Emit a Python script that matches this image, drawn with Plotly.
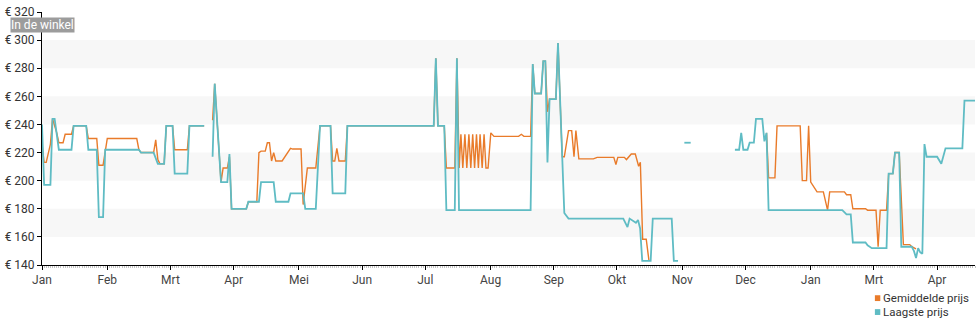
import plotly.graph_objects as go

# Month ticks (day offsets from the first day shown) and their labels
maand_dagen = [0, 31, 61, 91, 122, 152, 182, 213, 243, 273, 304, 334, 365, 395, 425]
maand_labels = ["Jan", "Feb", "Mrt", "Apr", "Mei", "Jun", "Jul", "Aug", "Sep",
                "Okt", "Nov", "Dec", "Jan", "Mrt", "Apr"]

# Laagste prijs, split into the stretches where a price was known
laagste_dag_1 = [0, 1, 4, 5, 6, 8, 14, 15, 21, 22, 26, 27, 29, 30, 46, 47, 53, 55, 58, 59,
                 62, 63, 69, 70, 77]
laagste_prijs_1 = [240, 197, 197, 244, 244, 222, 222, 239, 239, 222, 222, 174, 174, 222, 222,
                   220, 220, 212, 212, 239, 239, 205, 205, 239, 239]

laagste_dag_2 = [81, 82, 85, 88, 89, 90, 97, 98, 103, 104, 110, 111, 117, 118, 124, 125, 130,
                 132, 137, 138, 144, 145, 186, 187, 188, 191, 192, 196, 197, 198, 232, 233,
                 234, 237, 238, 239, 240, 241, 244, 245, 248, 250, 276, 278, 279, 282, 283,
                 284, 285, 289, 290, 299, 300, 302]
laagste_prijs_2 = [217, 269, 199, 199, 219, 180, 180, 185, 185, 199, 199, 185, 185, 191, 191,
                   180, 180, 239, 239, 191, 191, 239, 239, 287, 239, 239, 179, 179, 287, 179,
                   179, 283, 262, 262, 285, 285, 213, 258, 258, 298, 177, 173, 173, 167, 173,
                   170, 172, 166, 143, 143, 173, 173, 143, 143]

laagste_dag_3 = [305, 308]
laagste_prijs_3 = [227, 227]

laagste_dag_4 = [329, 331, 332, 333, 335, 336, 338, 339, 342, 343, 344, 345, 380, 382, 384,
                 385, 391, 392, 394, 401, 402, 404, 405, 407, 408, 413, 414, 415, 416, 417,
                 418, 419, 420, 425, 427, 429, 437, 438, 443]
laagste_prijs_4 = [222, 222, 234, 222, 222, 227, 227, 244, 244, 228, 234, 179, 179, 176, 176,
                   156, 156, 154, 152, 152, 205, 205, 220, 220, 153, 153, 150, 145, 152, 149,
                   148, 226, 217, 217, 212, 223, 223, 257, 257]

# Gemiddelde prijs
gem_dag_1 = [0, 1, 2, 4, 5, 7, 8, 10, 11, 14, 15, 21, 22, 26, 27, 29, 31, 45, 46, 47, 53,
             54, 55, 56, 58, 59, 62, 63, 69, 70, 77]
gem_prijs_1 = [226, 213, 213, 226, 244, 234, 227, 227, 233, 233, 239, 239, 230, 230, 211,
               211, 230, 230, 222, 220, 220, 229, 215, 212, 212, 239, 239, 222, 222, 239, 239]

gem_dag_2 = [81, 82, 85, 86, 88, 89, 90, 97, 98, 102, 103, 104, 106, 107, 108, 109, 110, 111,
             114, 117, 118, 119, 123, 124, 126, 130, 132, 137, 138, 139, 140, 141, 144, 145,
             186, 187, 188, 191, 192, 196, 197,
             198.1, 198.9, 199.8, 200.8, 201.7, 202.7, 203.6, 204.5, 205.4, 206.3, 207.2,
             208.0, 209.0, 209.9, 210.8, 211.8, 213.1, 214.6, 226.3, 227.6, 228.8, 232,
             233, 234, 237, 238, 239, 240, 241, 244, 245, 247, 248, 250, 251.5, 252.6, 253.5,
             254.9, 261.8, 263.6, 271.5, 272.5, 273.4, 276.5, 277.5, 279.8, 281.7, 283.3,
             284.1, 285.2, 286.9, 288.2]
gem_prijs_2 = [243, 269, 199, 209, 209, 217, 180, 180, 185, 185, 220, 221, 221, 227, 227, 214,
               220, 214, 214, 221, 223, 222.5, 222.5, 183, 209, 209, 239, 239, 214, 214, 223,
               214, 214, 239, 239, 287, 239, 239, 209, 209, 287,
               209, 233, 209, 233, 209, 233, 209, 233, 209, 233, 209, 233, 209, 233, 209, 209,
               234, 231.5, 231.5, 233, 231.5, 231.5,
               283, 262, 262, 285, 285, 249, 258, 258, 298, 217, 217, 235.6, 235.6, 217, 235.6,
               215.5, 215.5, 216.6, 216.6, 211.5, 216.6, 216.6, 215, 219, 219, 210.3, 213,
               158.3, 158.3, 143]

gem_dag_3 = [344, 345, 348, 349, 360, 361, 363, 364, 365, 368, 371, 373, 374, 381, 382, 384,
             385, 391, 392, 396, 397, 398, 401, 402, 404, 405, 407, 409, 412, 413, 415]
gem_prijs_3 = [234, 202, 202, 239, 239, 200, 200, 239, 199, 192, 192, 179, 192, 192, 190, 190,
               180, 180, 179, 179, 153, 179, 179, 205, 205, 220, 220, 154.5, 154.5, 153, 151.5]

ORANJE = "#e97b2a"
BLAUW = "#5fbcc4"


def aaneen(*delen):
    """Join (days, prices) stretches into one line with breaks between them."""
    xs, ys = [], []
    for i in range(0, len(delen), 2):
        if xs:
            xs.append(None)
            ys.append(None)
        xs.extend(delen[i])
        ys.extend(delen[i + 1])
    return xs, ys


gem_x, gem_y = aaneen(gem_dag_1, gem_prijs_1, gem_dag_2, gem_prijs_2, gem_dag_3, gem_prijs_3)
laag_x, laag_y = aaneen(laagste_dag_1, laagste_prijs_1, laagste_dag_2, laagste_prijs_2,
                        laagste_dag_3, laagste_prijs_3, laagste_dag_4, laagste_prijs_4)

fig = go.Figure()
fig.add_trace(go.Scatter(x=gem_x, y=gem_y, mode="lines", name="Gemiddelde prijs",
                         line=dict(color=ORANJE, width=1.4), connectgaps=False,
                         showlegend=False))
fig.add_trace(go.Scatter(x=laag_x, y=laag_y, mode="lines", name="Laagste prijs",
                         line=dict(color=BLAUW, width=1.8), connectgaps=False,
                         showlegend=False))

# Alternating light bands behind the plot
banden = [(160, 180), (200, 220), (240, 260), (280, 300)]
shapes = [dict(type="rect", xref="paper", yref="y", x0=0, x1=1, y0=a, y1=b,
               fillcolor="#f7f7f7", line=dict(width=0), layer="below") for a, b in banden]

# Legend swatches (bottom right)
legenda = [("Gemiddelde prijs", ORANJE, -0.131), ("Laagste prijs", BLAUW, -0.186)]
annotations = []
for tekst, kleur, ypos in legenda:
    shapes.append(dict(type="rect", xref="paper", yref="paper",
                       x0=0.8927, x1=0.8985, y0=ypos - 0.0115, y1=ypos + 0.0115,
                       fillcolor=kleur, line=dict(width=0)))
    annotations.append(dict(text=tekst, xref="paper", yref="paper", x=0.8995, y=ypos,
                            xanchor="left", yanchor="middle", showarrow=False,
                            font=dict(family="Roboto", size=11.5, color="#333")))

annotations.append(dict(text="In de winkel", xref="paper", yref="paper", x=-0.0345, y=0.949,
                        xanchor="left", yanchor="middle", showarrow=False,
                        bgcolor="#9c9c9c", borderpad=0,
                        font=dict(family="Roboto", size=12, color="white")))

fig.update_layout(
    width=980, height=325,
    margin=dict(l=40, r=5, t=9, b=60),
    paper_bgcolor="white", plot_bgcolor="white",
    font=dict(family="Roboto", size=12, color="#333"),
    shapes=shapes, annotations=annotations,
    showlegend=False,
    xaxis=dict(range=[0, 443], tickmode="array", tickvals=maand_dagen, ticktext=maand_labels,
               showline=True, linecolor="black", linewidth=1, ticks="outside", ticklen=4,
               tickcolor="black", showgrid=False, zeroline=False,
               tickfont=dict(size=12, color="#444"),
               minor=dict(tickmode="linear", tick0=0, dtick=1, ticks="outside", ticklen=2,
                          tickcolor="#c4c4c4", showgrid=False)),
    yaxis=dict(range=[140, 320], tickmode="linear", tick0=140, dtick=20, tickprefix="€ ",
               showline=True, linecolor="black", linewidth=1, ticks="outside", ticklen=4,
               tickcolor="black", showgrid=False, zeroline=False,
               tickfont=dict(size=12, color="#333")),
)

fig.write_html("out.html")
